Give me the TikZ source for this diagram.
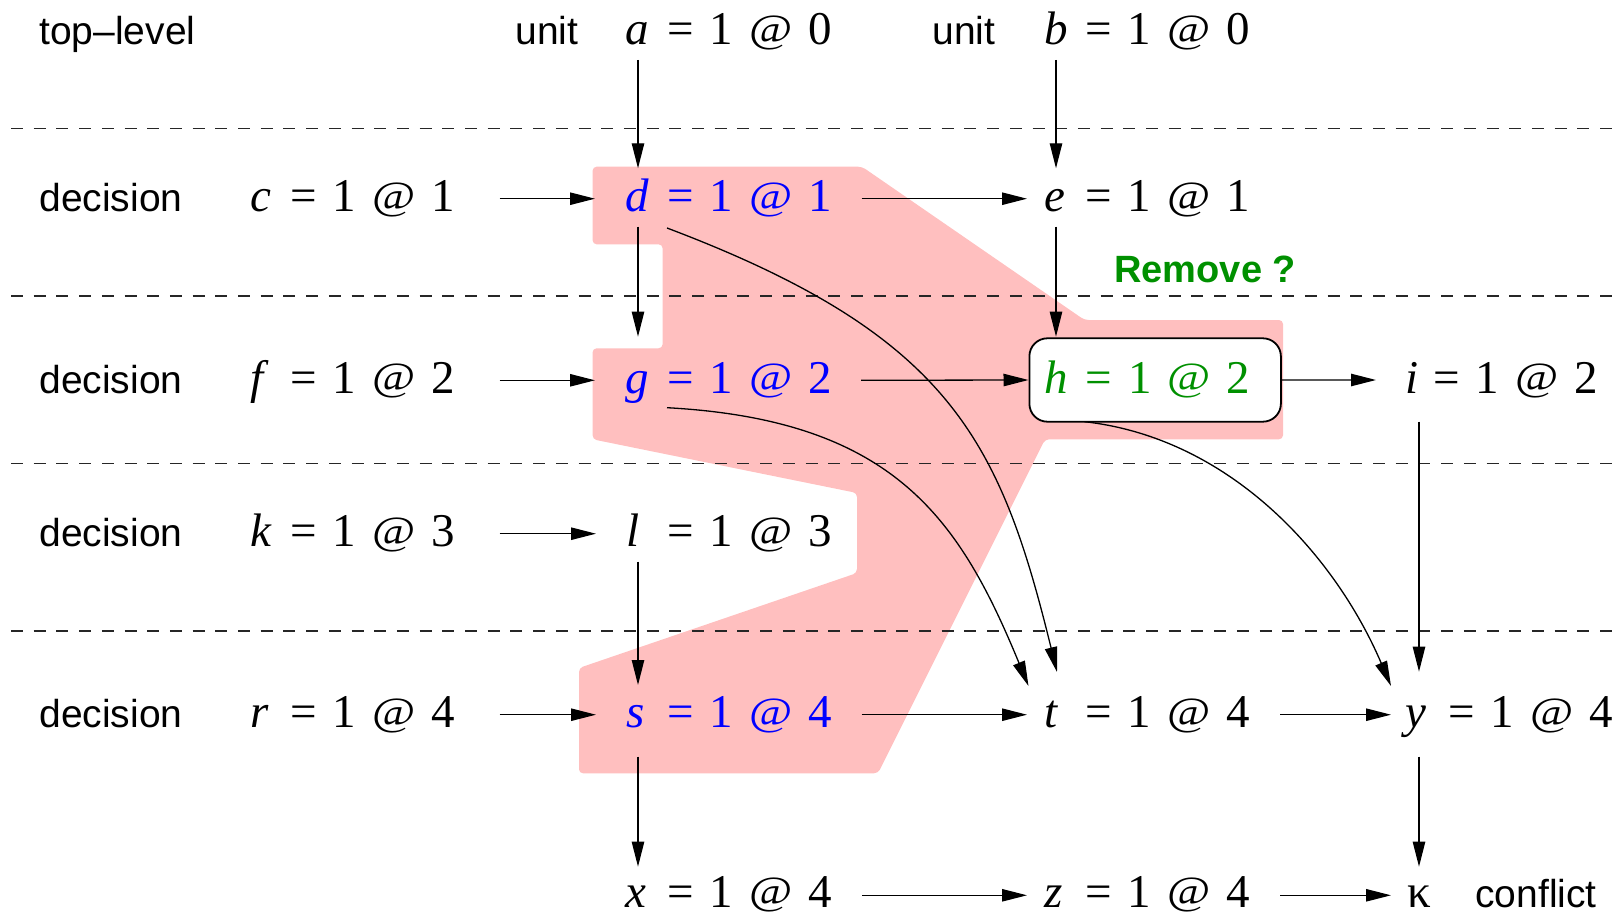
\documentclass[tikz,border=0pt]{standalone}
\usepackage{fontspec}
\setmainfont[WordSpace=1.35]{Liberation Serif}
\newfontfamily\labfont{Liberation Sans}
\usetikzlibrary{arrows.meta,calc}
\definecolor{pinkfill}{RGB}{255,191,191}
\definecolor{varblue}{RGB}{0,0,255}
\definecolor{vargreen}{RGB}{0,144,0}
\newcommand\atsign{\raisebox{0.05em}{\scalebox{1}[0.85]{@}}}
\newcommand\asg[3]{\makebox[#1][l]{\itshape #2}= 1 \atsign{} #3}
\begin{document}
\begin{tikzpicture}[x=0.5pt,y=-0.5pt,
  var/.style={inner sep=0pt, anchor=base west, font=\fontsize{23.5}{28}\selectfont},
  lab/.style={inner sep=0pt, anchor=base west, font=\labfont\fontsize{19.5}{23}\selectfont},
  arr/.style={line width=0.65pt, -{Triangle[length=12.5pt,width=6.2pt]}},
  level/.style={dash pattern=on 6pt off 5.35pt, line width=0.8pt, black!85},
  hboxstyle/.style={draw, fill=white, rounded corners=9pt, line width=0.9pt,
    inner xsep=7.75pt, inner ysep=0pt, text height=27.5pt, text depth=14.2pt},
  cone/.style={fill=pinkfill, rounded corners=2pt}]
\useasboundingbox (0,0) rectangle (1614,915);

% pink region
\fill[cone] (592.6,166.7) -- (862,166.7) -- (1084.5,320) -- (1283,320) -- (1283,439.3)
  -- (1045,439.3) -- (878,773.3) -- (579,773.3) -- (579,668) -- (857,573) -- (857,493)
  -- (592.6,439.3) -- (592.6,348.3) -- (662.6,348.3) -- (662.6,244.3) -- (592.6,244.3) -- cycle;

% level separators
\foreach \yy in {128.5,296,463.5,631}
  \draw[level] (11,\yy) -- (1614,\yy);

% row labels
\node[lab] (toplevel) at (39,45) {top–level};
\node[lab] (unitA) at (515,45) {unit};
\node[lab] (unitB) at (932,45) {unit};
\node[lab] (dec1) at (39,211.7) {decision};
\node[lab] (dec2) at (39,393.3) {decision};
\node[lab] (dec3) at (39,546.7) {decision};
\node[lab] (dec4) at (39,727.7) {decision};
\node[lab] (conflict) at (1475,907) {conflict};
\node[lab, font=\labfont\bfseries\fontsize{19}{23}\selectfont, text=vargreen] (remove) at (1114,283) {Remove ?};

% assignments
\node[var] (a) at (625,45) {\asg{21pt}{a}{0}};
\node[var] (b) at (1044,45) {\asg{20.5pt}{b}{0}};
\node[var] (c) at (250,211.7) {\asg{20pt}{c}{1}};
\node[var, text=varblue] (d) at (625,211.7) {\asg{21pt}{d}{1}};
\node[var] (e) at (1044,211.7) {\asg{20.5pt}{e}{1}};
\node[var] (f) at (250,393.3) {\asg{20pt}{f}{2}};
\node[var, text=varblue] (g) at (625,393.3) {\asg{21pt}{g}{2}};
\node[var, hboxstyle, text=vargreen] (h) at (1028.5,393.3) {\makebox[110.25pt][l]{\asg{20.5pt}{h}{2}}};
\node[var] (i) at (1405,393.3) {\asg{14pt}{i}{2}};
\node[var] (k) at (250,546.7) {\asg{20pt}{k}{3}};
\node[var] (l) at (626,546.7) {\asg{20.5pt}{l}{3}};
\node[var] (r) at (250,727.7) {\asg{20pt}{r}{4}};
\node[var, text=varblue] (s) at (626,727.7) {\asg{20.5pt}{s}{4}};
\node[var] (t) at (1044,727.7) {\asg{20.5pt}{t}{4}};
\node[var] (y) at (1405,727.7) {\asg{21.5pt}{y}{4}};
\node[var] (x) at (625,907) {\asg{21pt}{x}{4}};
\node[var] (z) at (1044,907) {\asg{20.5pt}{z}{4}};
\node[var] (kappa) at (1407,907) {κ};

% vertical implications
\draw[arr] ($(a.base west)+(13,15)$) -- ($(d.base west)+(13,-43.4)$);
\draw[arr] ($(b.base west)+(12,15)$) -- ($(e.base west)+(12,-43.4)$);
\draw[arr] ($(d.base west)+(13,15)$) -- ($(g.base west)+(13,-56.6)$);
\draw[arr] ($(e.base west)+(12,15)$) -- ($(h.base west)+(27.5,-56.6)$);
\draw[arr] ($(l.base west)+(12,15)$) -- ($(s.base west)+(12,-42.7)$);
\draw[arr] ($(s.base west)+(12,29)$) -- ($(x.base west)+(13,-40.3)$);
\draw[arr] ($(i.base west)+(14,28.4)$) -- ($(y.base west)+(14,-56)$);
\draw[arr] ($(y.base west)+(14,29)$) -- ($(kappa.base west)+(12,-40.3)$);

% horizontal implications
\draw[arr] ($(c.base west)+(249.5,-13)$) -- ($(d.base west)+(-30,-13)$);
\draw[arr] ($(f.base west)+(249.5,-13)$) -- ($(g.base west)+(-30,-13)$);
\draw[arr] ($(k.base west)+(249.5,-13)$) -- ($(l.base west)+(-30,-13)$);
\draw[arr] ($(r.base west)+(249.5,-13)$) -- ($(s.base west)+(-30,-13)$);
\draw[arr] ($(d.base west)+(236.7,-13)$) -- ($(e.base west)+(-17,-13)$);
\draw[arr] ($(g.base west)+(236,-13)$) -- (h.west);
\draw[arr] (h.east) -- ($(i.base west)+(-29,-13.3)$);
\draw[arr] ($(s.base west)+(235.7,-13)$) -- ($(t.base west)+(-17,-13)$);
\draw[arr] ($(t.base west)+(236,-13)$) -- ($(y.base west)+(-14,-13)$);
\draw[arr] ($(x.base west)+(237,-11.7)$) -- ($(z.base west)+(-17,-11.7)$);
\draw[arr] ($(z.base west)+(236,-11.7)$) -- ($(kappa.base west)+(-16,-11.7)$);

% curved implications
\draw[arr] ($(d.base west)+(42,16.3)$) .. controls (950,335) and (1000,440) .. ($(t.base west)+(13,-55.7)$);
\draw[arr] ($(g.base west)+(42,14.4)$) .. controls (895,420) and (960,520) .. ($(t.base west)+(-15.5,-41.7)$);
\draw[arr] ($(h.base west)+(56,28.4)$) .. controls (1230,438) and (1335,555) .. ($(y.base west)+(-14,-41.7)$);
\end{tikzpicture}
\end{document}
